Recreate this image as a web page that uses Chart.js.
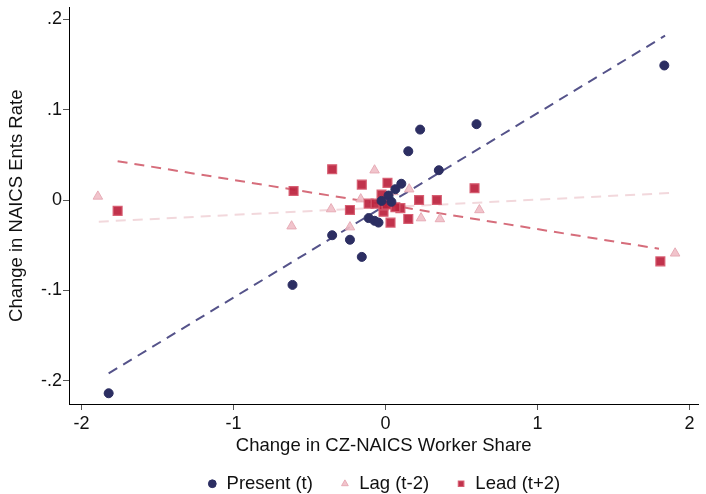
<!DOCTYPE html>
<html><head><meta charset="utf-8">
<script src="https://cdn.jsdelivr.net/npm/chart.js@4.4.1/dist/chart.umd.min.js"></script>
<style>html,body{margin:0;padding:0;background:#fff}#wrap{width:706px;height:494px}</style>
</head><body><div id="wrap"><canvas id="c" width="706" height="494"></canvas></div>
<script>
const seriesNames = ["Present (t)", "Lag (t-2)", "Lead (t+2)"];
const presentX = [1.835, -1.822, -0.612, -0.351, -0.234, -0.156, 0.599, 0.228, 0.150, 0.351, 0.104, 0.065, 0.020, 0.039, -0.026, -0.111, -0.072, -0.046];
const presentY = [0.149, -0.214, -0.094, -0.039, -0.044, -0.063, 0.084, 0.078, 0.054, 0.033, 0.018, 0.012, 0.005, -0.002, -0.001, -0.020, -0.023, -0.025];
const lagX = [-1.893, -0.618, -0.358, -0.234, 1.906, 0.618, 0.358, 0.234, -0.072, 0.156, -0.163, 0.052];
const lagY = [0.004, -0.029, -0.010, -0.030, -0.059, -0.011, -0.021, -0.020, 0.033, 0.012, 0.001, 0.009];
const leadX = [-1.763, -0.605, -0.351, -0.234, 1.809, 0.150, 0.033, 0.098, 0.065, -0.013, -0.156, 0.013, -0.026, 0.221, 0.338, 0.586, -0.111, -0.065, -0.013, 0.007];
const leadY = [-0.012, 0.010, 0.034, -0.011, -0.068, -0.021, -0.025, -0.009, -0.008, -0.013, 0.017, 0.019, 0.006, 0.000, 0.000, 0.013, -0.004, -0.004, -0.006, -0.005];
const presentFitX = [-1.822, 1.840];
const presentFitY = [-0.192, 0.182];
const lagFitX = [-1.887, 1.900];
const lagFitY = [-0.024, 0.008];
const leadFitX = [-1.763, 1.800];
const leadFitY = [0.043, -0.054];
const xTicks = [-2, -1, 0, 1, 2];
const yTicks = [-0.2, -0.1, 0, 0.1, 0.2];

const pts = (xs, ys) => xs.map((x, i) => ({x: x, y: ys[i]}));
const FONT = "'Liberation Sans', Arial, Helvetica, sans-serif";

const bg = {id: 'bg', beforeDraw(ch) {const c = ch.ctx; c.save(); c.fillStyle = '#fff'; c.fillRect(0, 0, ch.width, ch.height); c.restore();}};

new Chart(document.getElementById('c'), {
  type: 'scatter',
  data: {datasets: [
    {label: 'fitP', data: pts(presentFitX, presentFitY), showLine: true, borderColor: '#55538a', borderWidth: 2, borderDash: [10, 7], pointRadius: 0, fill: false, order: 5},
    {label: 'fitL', data: pts(lagFitX, lagFitY), showLine: true, borderColor: '#f2d8dc', borderWidth: 2, borderDash: [10, 7], pointRadius: 0, fill: false, order: 6},
    {label: 'fitD', data: pts(leadFitX, leadFitY), showLine: true, borderColor: '#d66d7b', borderWidth: 2, borderDash: [10, 7], pointRadius: 0, fill: false, order: 4},
    {label: seriesNames[1], data: pts(lagX, lagY), pointStyle: 'triangle', pointRadius: 5.5, backgroundColor: 'rgba(239,190,198,0.9)', borderColor: 'rgba(230,170,180,0.95)', borderWidth: 1, order: 3},
    {label: seriesNames[2], data: pts(leadX, leadY), pointStyle: 'rect', pointRadius: 6.3, backgroundColor: 'rgba(188,36,62,0.93)', borderColor: 'rgba(214,92,112,0.95)', borderWidth: 1.2, order: 2},
    {label: seriesNames[0], data: pts(presentX, presentY), pointStyle: 'circle', pointRadius: 4.5, backgroundColor: '#2c2e62', borderColor: '#2c2e62', borderWidth: 1, order: 1}
  ]},
  options: {
    responsive: false, animation: false,
    layout: {padding: {top: 5, right: 1, left: 0, bottom: -9}},
    plugins: {
      tooltip: {enabled: false},
      legend: {
        position: 'bottom', fullSize: false,
        labels: {
          filter: (it) => seriesNames.includes(it.text),
          sort: (a, b) => seriesNames.indexOf(a.text) - seriesNames.indexOf(b.text),
          usePointStyle: true, boxWidth: 10, boxHeight: 5.5, padding: 27,
          color: '#111', font: {family: FONT, size: 18.5}
        }
      }
    },
    scales: {
      x: {
        type: 'linear', min: -2.083, max: 2.06,
        afterBuildTicks: (s) => { s.ticks = xTicks.map(v => ({value: v})); },
        afterFit: (s) => { s.height = 43.5; },
        ticks: {color: '#111', font: {family: FONT, size: 18}, padding: 3, maxRotation: 0, callback: (v) => String(v)},
        grid: {display: true, drawOnChartArea: false, drawTicks: true, tickLength: 6, tickColor: '#555'},
        border: {display: true, color: '#000', width: 1},
        title: {display: true, text: 'Change in CZ-NAICS Worker Share', color: '#111', font: {family: FONT, size: 18.5}, padding: {top: 0, bottom: -9.5}}
      },
      y: {
        type: 'linear', min: -0.2259, max: 0.2132,
        afterBuildTicks: (s) => { s.ticks = yTicks.map(v => ({value: v})); },
        afterFit: (s) => { s.width = 69; },
        ticks: {color: '#111', font: {family: FONT, size: 18, lineHeight: 0.45}, padding: 1,
          callback: (v) => { if (Math.abs(v) < 1e-9) return '0'; const s = (Math.round(v * 10) / 10).toString(); return s.replace('0.', '.'); }},
        grid: {display: true, drawOnChartArea: false, drawTicks: true, tickLength: 6, tickColor: '#555'},
        border: {display: true, color: '#000', width: 1},
        title: {display: true, text: 'Change in NAICS Ents Rate', color: '#111', font: {family: FONT, size: 18.5}, padding: {top: 6, bottom: 0}}
      }
    }
  },
  plugins: [bg]
});
</script></body></html>
